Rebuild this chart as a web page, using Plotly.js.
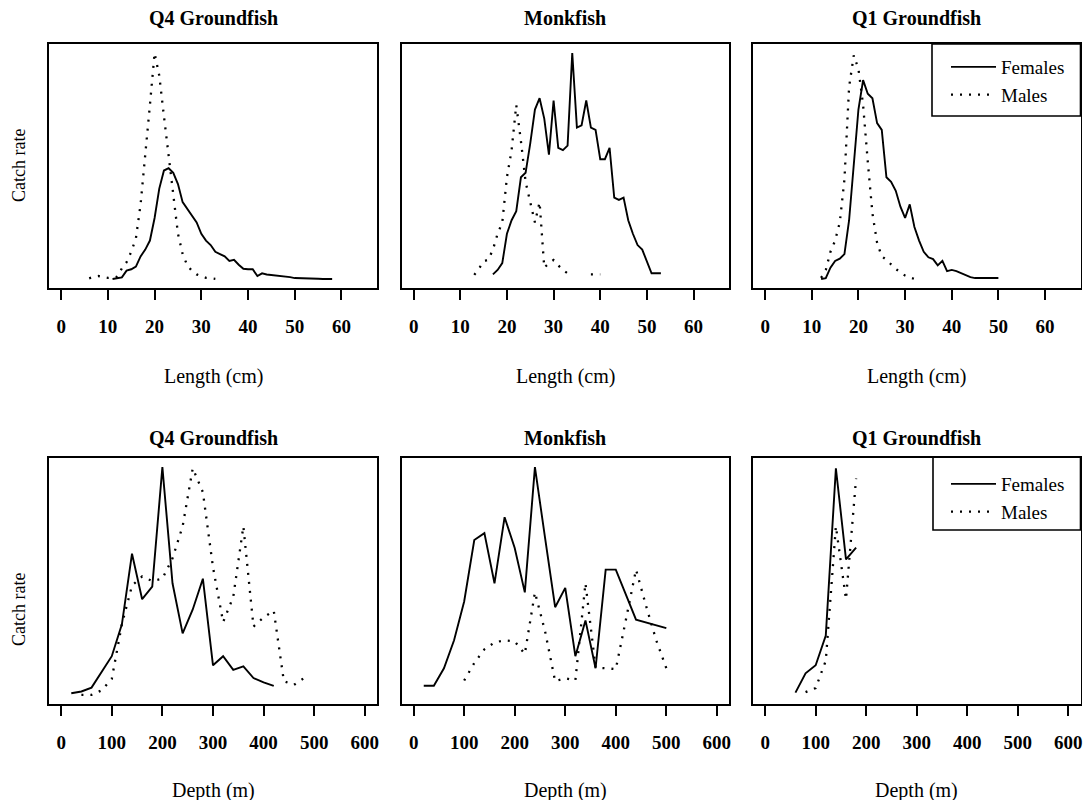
<!DOCTYPE html>
<html>
<head>
<meta charset="utf-8">
<script src="https://cdn.plot.ly/plotly-3.0.1.min.js"></script>
<style>html,body{margin:0;padding:0;background:#fff;}#chart{width:1087px;height:800px;}</style>
</head>
<body>
<div id="chart"></div>
<script>
// ---------- DATA (catch rate in relative units) ----------
// Q4 Groundfish, length (cm)
const q4LenFemX = [11,12,13,14,15,16,17,18,19,20,21,22,23,24,25,26,27,28,29,30,31,32,33,34,35,36,37,38,39,40,41,42,43,44,45,46,47,48,49,50,51,52,53,54,55,56,57,58];
const q4LenFemY = [0,0.003,0.007,0.037,0.043,0.055,0.10,0.13,0.17,0.27,0.40,0.48,0.49,0.47,0.42,0.34,0.31,0.28,0.25,0.20,0.17,0.15,0.12,0.11,0.10,0.08,0.085,0.063,0.045,0.043,0.043,0.013,0.025,0.02,0.018,0.016,0.013,0.01,0.008,0.004,0.004,0.002,0.001,0.001,0.001,0,0,0];
const q4LenMalX = [6,7,8,9,10,11,12,13,14,15,16,17,18,19,20,21,22,23,24,25,26,27,28,29,30,31,32,33];
const q4LenMalY = [0.003,0.01,0.013,0.008,0.005,0.006,0.01,0.047,0.074,0.12,0.18,0.33,0.54,0.77,1.0,0.9,0.72,0.55,0.36,0.2,0.11,0.06,0.035,0.02,0.012,0.005,0.003,0];

// Monkfish, length (cm)
const mkLenFemX = [17,18,19,20,21,22,23,24,25,26,27,28,29,30,31,32,33,34,35,36,37,38,39,40,41,42,43,44,45,46,47,48,49,50,51,52,53];
const mkLenFemY = [0.02,0.04,0.07,0.20,0.26,0.30,0.45,0.47,0.60,0.75,0.80,0.71,0.55,0.79,0.58,0.57,0.59,1.0,0.67,0.68,0.79,0.67,0.66,0.53,0.53,0.58,0.36,0.35,0.36,0.26,0.20,0.15,0.13,0.08,0.025,0.025,0.025];
const mkLenMalX = [13,14,15,16,17,18,19,20,21,22,23,24,25,26,27,28,29,30,31,32,33,34,35,36,37,38,39,40];
const mkLenMalY = [0.018,0.045,0.078,0.085,0.13,0.20,0.25,0.45,0.57,0.77,0.61,0.43,0.34,0.25,0.34,0.05,0.07,0.084,0.06,0.04,0.025,null,null,null,null,0.02,0.02,0.02];

// Q1 Groundfish, length (cm)
const q1LenFemX = [12,13,14,15,16,17,18,19,20,21,22,23,24,25,26,27,28,29,30,31,32,33,34,35,36,37,38,39,40,41,42,43,44,45,46,47,48,49,50];
const q1LenFemY = [0,0.004,0.05,0.08,0.09,0.11,0.26,0.50,0.75,0.88,0.82,0.80,0.69,0.66,0.45,0.43,0.39,0.32,0.27,0.33,0.23,0.17,0.12,0.096,0.088,0.06,0.08,0.035,0.04,0.035,0.025,0.015,0.008,0.004,0.004,0.004,0.004,0.004,0.004];
const q1LenMalX = [12,13,14,15,16,17,18,19,20,21,22,23,24,25,26,27,28,29,30,31,32];
const q1LenMalY = [0.005,0.04,0.12,0.17,0.25,0.44,0.85,0.99,0.93,0.77,0.52,0.29,0.16,0.10,0.085,0.065,0.044,0.03,0.015,0.007,0];

// Q4 Groundfish, depth (m)
const q4DepFemX = [20,40,60,80,100,120,140,160,180,200,220,240,260,280,300,320,340,360,380,400,420];
const q4DepFemY = [0.007,0.015,0.032,0.10,0.17,0.31,0.62,0.42,0.475,1.0,0.49,0.27,0.375,0.51,0.13,0.17,0.11,0.125,0.074,0.055,0.04];
const q4DepMalX = [40,60,80,100,120,140,160,180,200,220,240,260,280,300,320,340,360,380,400,420,440,460,480];
const q4DepMalY = [0,0,0.02,0.07,0.31,0.48,0.52,0.50,0.51,0.60,0.74,0.995,0.89,0.56,0.32,0.43,0.74,0.30,0.34,0.37,0.06,0.044,0.074];

// Monkfish, depth (m)
const mkDepFemX = [20,40,60,80,100,120,140,160,180,200,220,240,260,280,300,320,340,360,380,400,420,440,500];
const mkDepFemY = [0.04,0.04,0.117,0.24,0.41,0.68,0.71,0.49,0.78,0.645,0.45,1.0,0.69,0.385,0.47,0.17,0.327,0.117,0.55,0.55,0.44,0.33,0.293];
const mkDepMalX = [100,120,140,160,180,200,220,240,260,280,300,320,340,360,380,400,420,440,460,480,500];
const mkDepMalY = [0.063,0.14,0.20,0.23,0.24,0.235,0.18,0.45,0.28,0.06,0.073,0.063,0.49,0.12,0.117,0.113,0.33,0.55,0.39,0.24,0.117];

// Q1 Groundfish, depth (m)
const q1DepFemX = [60,80,100,120,140,160,180];
const q1DepFemY = [0.01,0.095,0.13,0.26,0.995,0.595,0.646];
const q1DepMalX = [80,100,120,140,160,180];
const q1DepMalY = [0.012,0.03,0.15,0.74,0.42,0.95];

const panelTitles = ["Q4 Groundfish","Monkfish","Q1 Groundfish","Q4 Groundfish","Monkfish","Q1 Groundfish"];
const lenTicks = [0,10,20,30,40,50,60];
const depTicks = [0,100,200,300,400,500,600];
const seriesNames = ["Females","Males"];

// ---------- BUILD ----------
const W = 1087, H = 800;
const serif = "Liberation Serif, Times New Roman, serif";
const femLine = {color:"#000", width:1.9, dash:"solid"};
const malLine = {color:"#000", width:2.3, dash:"2px,7px"};

const panels = [
  [q4LenFemX,q4LenFemY,q4LenMalX,q4LenMalY],
  [mkLenFemX,mkLenFemY,mkLenMalX,mkLenMalY],
  [q1LenFemX,q1LenFemY,q1LenMalX,q1LenMalY],
  [q4DepFemX,q4DepFemY,q4DepMalX,q4DepMalY],
  [mkDepFemX,mkDepFemY,mkDepMalX,mkDepMalY],
  [q1DepFemX,q1DepFemY,q1DepMalX,q1DepMalY]
];

const traces = [];
panels.forEach((p,i)=>{
  const xa = "x"+(i===0?"":(i+1)), ya = "y"+(i===0?"":(i+1));
  const legendOn = (i===2 || i===5);
  const lg = i===5 ? "legend2" : "legend";
  traces.push({x:p[0], y:p[1], type:"scatter", mode:"lines", name:seriesNames[0], line:femLine,
    xaxis:xa, yaxis:ya, showlegend:legendOn, legend:lg, connectgaps:false, hoverinfo:"skip"});
  traces.push({x:p[2], y:p[3], type:"scatter", mode:"lines", name:seriesNames[1], line:malLine,
    xaxis:xa, yaxis:ya, showlegend:legendOn, legend:lg, connectgaps:false, hoverinfo:"skip"});
});

// panel boxes in pixels
const colX = [[49,377],[401.5,729],[753,1080.5]];
const rowY = [[44,288],[458,704]];
const layout = {
  width:W, height:H, margin:{l:0,r:0,t:0,b:0},
  paper_bgcolor:"#fff", plot_bgcolor:"#fff",
  showlegend:true,
  font:{family:serif, color:"#000"},
  annotations:[], shapes:[]
};
for(let i=0;i<6;i++){
  const r = Math.floor(i/3), c = i%3;
  const sfx = i===0?"":(i+1);
  const isLen = r===0;
  layout["xaxis"+sfx] = {
    domain:[colX[c][0]/W, colX[c][1]/W],
    range: isLen ? [-2.6,67.6] : [-24,624],
    anchor:"y"+sfx,
    tickmode:"array", tickvals: isLen?lenTicks:depTicks, ticktext:(isLen?lenTicks:depTicks).map(String),
    ticks:"outside", ticklen:10, tickwidth:2, tickcolor:"#000",
    ticklabelstandoff:11,
    tickfont:{family:serif, size:19, color:"#000", weight:"bold"},
    showline:true, linecolor:"#000", linewidth:1.6, mirror:true,
    showgrid:false, zeroline:false, fixedrange:true
  };
  layout["yaxis"+sfx] = {
    domain:[1-rowY[r][1]/H, 1-rowY[r][0]/H],
    range:[-0.04,1.04], anchor:"x"+sfx,
    showticklabels:false, ticks:"",
    showline:true, linecolor:"#000", linewidth:1.6, mirror:true,
    showgrid:false, zeroline:false, fixedrange:true
  };
  const cx = (colX[c][0]+colX[c][1])/2/W;
  layout.annotations.push({text:"<b>"+panelTitles[i]+"</b>", xref:"paper", yref:"paper",
    x:cx, y:1-(r===0?18:438)/H, xanchor:"center", yanchor:"middle", showarrow:false,
    font:{family:serif, size:20, color:"#000"}});
  layout.annotations.push({text: isLen ? "Length (cm)" : "Depth (m)", xref:"paper", yref:"paper",
    x:cx, y:1-(r===0?377:790)/H, xanchor:"center", yanchor:"middle", showarrow:false,
    font:{family:serif, size:20, color:"#000"}});
}
["Catch rate","Catch rate"].forEach((t,r)=>{
  layout.annotations.push({text:t, xref:"paper", yref:"paper", x:19/W, y:1-(r===0?166:610)/H,
    xanchor:"center", yanchor:"middle", textangle:-90, showarrow:false,
    font:{family:serif, size:18, color:"#000"}});
});
// legend frames
const legBoxes = [[932,44,1080.5,116],[933,457,1080.5,530]];
legBoxes.forEach(b=>{
  layout.shapes.push({type:"rect", xref:"paper", yref:"paper", x0:b[0]/W, x1:b[2]/W, y0:1-b[3]/H, y1:1-b[1]/H,
    line:{color:"#000", width:1.6}, fillcolor:"rgba(0,0,0,0)"});
});
const legCommon = {xref:"paper", yref:"paper", xanchor:"left", yanchor:"top", bgcolor:"rgba(0,0,0,0)",
  borderwidth:0, font:{family:serif, size:19, color:"#000"}, itemwidth:45, tracegroupgap:0, traceorder:"normal"};
layout.legend = Object.assign({}, legCommon, {x:946/W, y:1-48/H});
layout.legend2 = Object.assign({}, legCommon, {x:946/W, y:1-465/H});

Plotly.newPlot("chart", traces, layout, {staticPlot:true, displayModeBar:false});
</script>
</body>
</html>
